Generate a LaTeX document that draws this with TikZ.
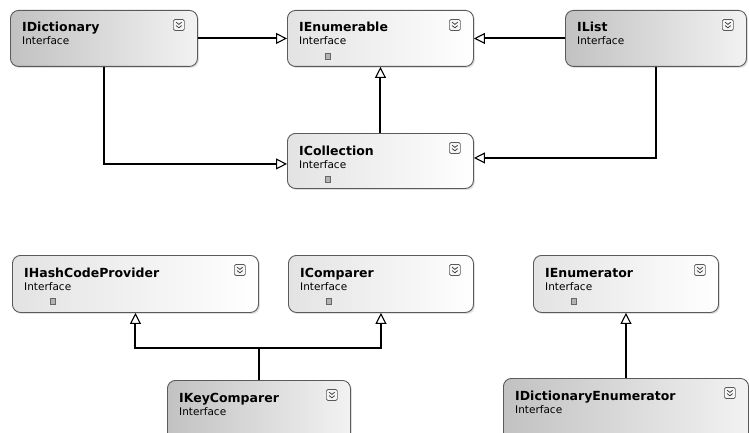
\documentclass[tikz,border=0pt]{standalone}
\usepackage{fontspec}
\setmainfont{DejaVu Sans}
\usetikzlibrary{arrows.meta,calc,shadows}
\definecolor{bordc}{HTML}{5A5A5A}
\tikzset{
  box/.style={draw=bordc, line width=0.9pt, rounded corners=8pt, anchor=north west, inner sep=0pt,
    drop shadow={opacity=0.25, shadow xshift=1.5pt, shadow yshift=-1.5pt}},
  lightbox/.style={box, left color=gray!22, right color=white},
  darkbox/.style={box, left color=gray!48, right color=gray!10},
  ttl/.style={anchor=base west, inner sep=0pt, font=\fontsize{12.5}{14}\selectfont\bfseries},
  sub/.style={anchor=base west, inner sep=0pt, font=\fontsize{10.5}{12}\selectfont},
  conn/.style={line width=2pt, draw=black},
  arr/.style={conn, -{Triangle[open, length=11pt, width=11pt, line width=1.1pt]}},
  chevbox/.style={draw=gray!70!black, fill=gray!8, rounded corners=1.5pt, line width=0.6pt, minimum size=11pt, inner sep=0pt},
  lockic/.style={fill=gray!60, draw=gray!80!black, line width=0.3pt, minimum width=5pt, minimum height=5.5pt, inner sep=0pt}
}
\newcommand{\umlbox}[7]{%
  % #1 name, #2 style, #3 left, #4 top, #5 right, #6 bottom, #7 title
  \node[#2, minimum width={#5-#3}, minimum height={#6-#4}] (#1) at (#3,#4) {};
  \node[ttl] (#1-t) at ($(#1.north west)+(12,22)$) {#7};
  \node[sub] (#1-s) at ($(#1.north west)+(12,35)$) {Interface};
  \node[chevbox] (#1-c) at ($(#1.north east)+(-19,15)$) {};
  \draw[gray!40!black, line width=0.7pt] ($(#1-c.center)+(-2.8,-2.8)$) -- ($(#1-c.center)+(0,-0.6)$) -- ($(#1-c.center)+(2.8,-2.8)$);
  \draw[gray!40!black, line width=0.7pt] ($(#1-c.center)+(-2.8,0.6)$) -- ($(#1-c.center)+(0,2.8)$) -- ($(#1-c.center)+(2.8,0.6)$);
}
\newcommand{\lockat}[1]{\node[lockic] (#1-l) at ($(#1.north west)+(41,46)$) {};}
\begin{document}
\begin{tikzpicture}[x=1pt,y=-1pt]
\useasboundingbox (0,0) rectangle (749,433);
\clip (0,0) rectangle (749,433);
\fill[white] (0,0) rectangle (749,433);
\umlbox{IDictionary}{darkbox}{10}{10}{197}{66}{IDictionary}
\umlbox{IEnumerable}{lightbox}{287}{10}{473}{66}{IEnumerable}
\lockat{IEnumerable}
\umlbox{IList}{darkbox}{565}{10}{746}{66}{IList}
\umlbox{ICollection}{lightbox}{287}{133}{473}{188}{ICollection}
\lockat{ICollection}
\umlbox{IHashCodeProvider}{lightbox}{12}{255}{258}{312}{IHashCodeProvider}
\lockat{IHashCodeProvider}
\umlbox{IComparer}{lightbox}{288}{255}{473}{312}{IComparer}
\lockat{IComparer}
\umlbox{IKeyComparer}{darkbox}{167}{380}{350}{445}{IKeyComparer}
\umlbox{IEnumerator}{lightbox}{533}{255}{718}{312}{IEnumerator}
\lockat{IEnumerator}
\umlbox{IDictionaryEnumerator}{darkbox}{503}{378}{748}{445}{IDictionaryEnumerator}
% connectors
\draw[arr] (IDictionary.east) -- (IEnumerable.west);
\draw[arr] (IList.west) -- (IEnumerable.east);
\draw[arr] (ICollection.north) -- (IEnumerable.south);
\draw[arr] (IDictionary.south) |- ([yshift=-3pt]ICollection.west);
\draw[arr] (IList.south) |- ([yshift=3pt]ICollection.east);
\draw[conn] (IKeyComparer.north) -- ++(0,-32) coordinate (kj);
\draw[arr] (kj) -| (IHashCodeProvider.south);
\draw[arr] (kj) -| (IComparer.south);
\draw[arr] (IDictionaryEnumerator.north) -- (IEnumerator.south);
\end{tikzpicture}
\end{document}
